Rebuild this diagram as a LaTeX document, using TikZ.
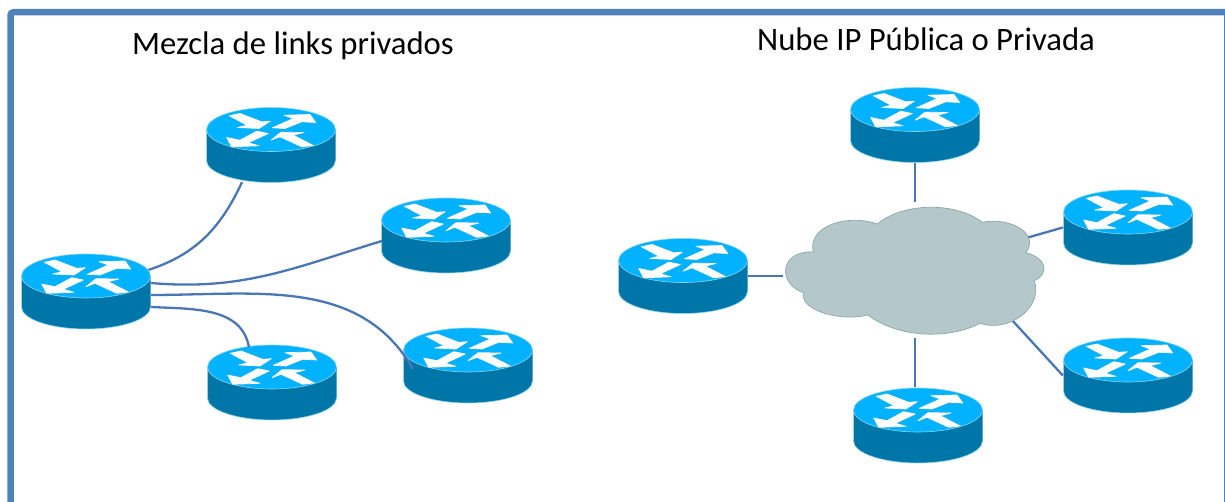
\documentclass[tikz,border=0pt]{standalone}
\usepackage{fontspec}
\setmainfont{Carlito}
\usetikzlibrary{backgrounds}

\definecolor{marco}{HTML}{4F81BD}
\definecolor{enlace}{HTML}{4A76B6}
\definecolor{tapa}{HTML}{00B2FF}
\definecolor{lado}{HTML}{0076A8}
\definecolor{borde}{HTML}{8AD6F2}
\definecolor{nubegris}{HTML}{B4C7CA}
\definecolor{nubeborde}{HTML}{8FA6A8}

\newcommand{\flechas}{%
	(-41.7,29.2) -- (-31,31.5) -- (-9.3,23.2) -- (-0.7,23.8) -- (-12,16.5) -- (-33.3,17.5) -- (-24,19.8) -- cycle
	(1.3,17.2) -- (14,16.5) -- (30.7,23.2) -- (44.7,22.5) -- (39,30.5) -- (13,29.8) -- (22.3,26.5) -- cycle
	(-44.3,7.5) -- (-39.3,-1.8) -- (-12,-0.8) -- (-22.7,2.2) -- (-2.7,11.5) -- (-14.3,13.8) -- (-31,4.8) -- cycle
	(0,4.8) -- (10,12.8) -- (33,12.5) -- (22.3,9.8) -- (42.3,-0.5) -- (30.7,-1.8) -- (9,8.2) -- cycle
}
\newcommand{\dibujorouter}{%
	\begin{scope}[shift={(path picture bounding box.center)}]
		\fill[lado] (-64.5,15.5) -- (-64.5,-15.5) arc[start angle=180,end angle=360,x radius=64.5,y radius=22] -- (64.5,15.5) -- cycle;
		\draw[borde,line width=0.6pt] (-64.5,-15.5) arc[start angle=180,end angle=360,x radius=64.5,y radius=22];
		\fill[tapa] (0,15.5) ellipse[x radius=64.5,y radius=22];
		\draw[borde,line width=0.6pt] (0,15.5) ellipse[x radius=64.5,y radius=22];
		\fill[black,shift={(-0.6,0.8)}] \flechas;
		\filldraw[white,line width=0.7pt,line join=round] \flechas;
	\end{scope}
}
\newcommand{\dibujonube}{%
	\begin{scope}[shift={(path picture bounding box.center)}]
		\filldraw[fill=nubegris,draw=nubeborde,line width=0.7pt] (-101.2,18)
			.. controls (-107.8,43.3) and (-67.8,56.7) .. (-37.2,46)
			.. controls (-11.2,68) and (42.2,68) .. (67.8,47.7)
			.. controls (95.5,53.3) and (125.5,36.7) .. (111.5,17.3)
			.. controls (132.2,11.7) and (135.5,-3.3) .. (119.8,-10.7)
			.. controls (128.8,-36.7) and (95.5,-63.3) .. (65.5,-53.3)
			.. controls (35.5,-69) and (-14.5,-69) .. (-46.8,-45)
			.. controls (-71.2,-51.7) and (-114.5,-41.7) .. (-111.2,-22.7)
			.. controls (-137.8,-13.3) and (-134.5,20) .. (-101.2,18) -- cycle;
	\end{scope}
}

\begin{document}
\begin{tikzpicture}[x=1pt,y=1pt,
			router/.style={minimum width=130pt,minimum height=76pt,inner sep=0pt,path picture={\dibujorouter}},
			nube/.style={minimum width=262pt,minimum height=136pt,inner sep=0pt,path picture={\dibujonube}},
			enlacea/.style={draw=enlace,line width=2.3pt},
			titulo/.style={font=\fontsize{32.7}{38}\selectfont,inner sep=0pt}]
			\useasboundingbox (0,0) rectangle (1225,502);

			\draw[marco,line width=6.5pt,rounded corners=3pt] (10.5,0) |- (1225,489.75);
			\draw[marco,line width=1.5pt] (1224.25,0) -- (1224.25,489);

			\node (tituloizq) [titulo] at (293,456) {Mezcla de links privados};
			\node (tituloder) [titulo] at (926,463) {Nube IP Pública o Privada};

			% links privados
			\node (rizq) [router] at (86,210.5) {};
			\node (rarriba) [router] at (271,357) {};
			\node (rmedio) [router] at (446,266.5) {};
			\node (rbajo) [router] at (468,136.5) {};
			\node (rabajo) [router] at (272,119.5) {};

			% nube
			\node (nubeip) [nube] at (914.5,232) {};
			\coordinate (nubesur) at (1000,195);
			\node (roeste) [router] at (683,226) {};
			\node (rnorte) [router] at (915,377) {};
			\node (restea) [router] at (1128,274.5) {};
			\node (resteb) [router] at (1128,126.5) {};
			\node (rsur) [router] at (918,76.5) {};

			\begin{scope}[on background layer]
				\draw[enlacea] ([xshift=-3pt,yshift=21.5pt]rizq.east) to[out=18,in=-115] ([xshift=-29pt,yshift=1pt]rarriba.south);
				\draw[enlacea] ([yshift=8.5pt]rizq.east) to[out=-5,in=197] ([xshift=1pt,yshift=-5.5pt]rmedio.west);
				\draw[enlacea] (rnorte.south) -- (nubeip.north -| rnorte);
				\draw[enlacea] ([xshift=-3pt]rsur.north) -- ([xshift=-3pt]nubeip.south -| rsur);
				\draw[enlacea] (roeste.east) -- (roeste.east -| nubeip.west);
				\draw[enlacea] (restea.west) -- (nubeip.center);
				\draw[enlacea] (resteb.west) -- (nubesur);
			\end{scope}
			\draw[enlacea] ([yshift=-3.5pt]rizq.east) to[out=0,in=120] ([xshift=-55pt,yshift=-3.5pt]rbajo.center);
			\draw[enlacea] ([yshift=-15.5pt]rizq.east) to[out=-3,in=100] ([xshift=-23pt,yshift=-3pt]rabajo.north);
\end{tikzpicture}
\end{document}
